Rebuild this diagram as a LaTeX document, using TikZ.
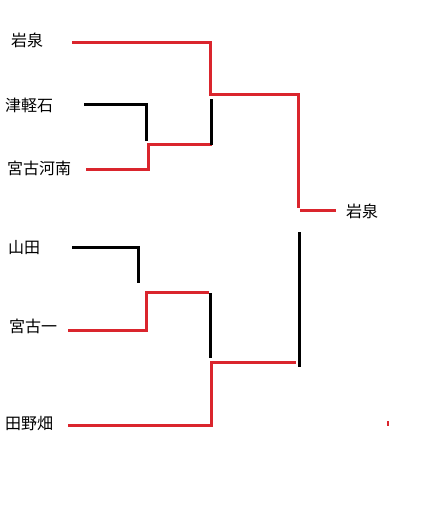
\documentclass[tikz,border=0pt]{standalone}
\usepackage{fontspec}
\usepackage{xcolor}
\newfontfamily\jpfont{Noto Sans CJK JP}
\usetikzlibrary{positioning}
\definecolor{winred}{RGB}{218,37,45}

\begin{document}
\begin{tikzpicture}[x=1pt, y=-1pt, team/.style={anchor=west, inner sep=0pt, font=\jpfont\fontsize{16}{18}\selectfont}, lost/.style={line width=3pt, black}, won/.style={line width=3pt, winred}]
  \useasboundingbox[fill=white] (0,0) rectangle (436,517);
  \node[team] (iwa) at (11,40) {岩泉};
  \node[team] (tsu) at (5,105) {津軽石};
  \node[team] (kan) at (7,168) {宮古河南};
  \node[team] (yam) at (8,248) {山田};
  \node[team] (ich) at (9,326) {宮古一};
  \node[team] (tan) at (5,424) {田野畑};
  \node[team] (champ) at (346,211) {岩泉};
  % first round
  \coordinate (tsu-e) at (84,104);
  \coordinate (kan-e) at (86,169);
  \coordinate (yam-e) at (72,247);
  \coordinate (ich-e) at (68,330);
  \draw[lost] (tsu-e) -| (146,141);
  \draw[won] (kan-e) -| (148,144) -- (212,144);
  \draw[lost] (yam-e) -| (138,283);
  \draw[won] (ich-e) -| (146,292) -- (209,292);
  % second round
  \coordinate (iwa-e) at (72,42);
  \coordinate (tan-e) at (68,425);
  \draw[won] (iwa-e) -| (210,94) -- (298,94) -- (298,208);
  \draw[lost] (211,99) -- (211,145);
  \draw[lost] (210,293) -- (210,358);
  \draw[won] (tan-e) -| (211,362) -- (296,362);
  % final
  \coordinate (champ-w) at (336,210);
  \draw[won] (300,210) -- (champ-w);
  \draw[lost] (299,232) -- (299,367);
  \draw[winred, line width=2pt] (388,421) -- (388,426);
\end{tikzpicture}
\end{document}
